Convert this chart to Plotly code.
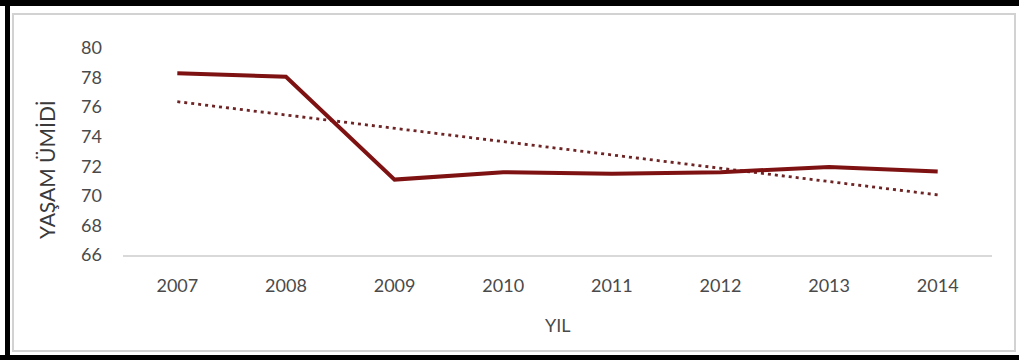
import numpy as np
import plotly.graph_objects as go

# Life expectancy by year
years = ["2007", "2008", "2009", "2010", "2011", "2012", "2013", "2014"]
life_expectancy = [78.3, 78.05, 71.1, 71.6, 71.5, 71.6, 71.95, 71.65]
y_ticks = [66, 68, 70, 72, 74, 76, 78, 80]

# Linear trend fitted over the yearly values
idx = np.arange(len(years))
slope, intercept = np.polyfit(idx, life_expectancy, 1)
trend = (intercept + slope * idx).tolist()

W, H = 1019, 360
L, R, T, B = 123, 27, 48, 105
pw, ph = W - L - R, H - T - B


def px(x):
    return (x - L) / pw


def py(y):
    return (H - B - y) / ph


FONT = "Lato"
GREY = "#4a4a4a"

fig = go.Figure()
fig.add_trace(go.Scatter(
    x=years, y=trend, mode="lines",
    line=dict(color="#6e2424", width=2.8, dash="3px,4px"),
    showlegend=False, hoverinfo="skip",
))
fig.add_trace(go.Scatter(
    x=years, y=life_expectancy, mode="lines",
    line=dict(color="#7e1212", width=4),
    showlegend=False,
))

shapes = [
    # inner light frame
    dict(type="rect", xref="paper", yref="paper",
         x0=px(13), x1=px(1015), y0=py(351), y1=py(14),
         line=dict(color="#d2d2d2", width=2), layer="below"),
    # outer black frame edges
    dict(type="line", xref="paper", yref="paper",
         x0=px(0), x1=px(W), y0=py(3), y1=py(3),
         line=dict(color="#000000", width=6)),
    dict(type="line", xref="paper", yref="paper",
         x0=px(7.5), x1=px(7.5), y0=py(0), y1=py(H),
         line=dict(color="#000000", width=5)),
    dict(type="line", xref="paper", yref="paper",
         x0=px(0), x1=px(W), y0=py(357.5), y1=py(357.5),
         line=dict(color="#000000", width=5)),
]

annotations = [
    dict(text="YIL", xref="paper", yref="paper",
         x=px(558), y=py(325), xanchor="center", yanchor="middle",
         showarrow=False, font=dict(family=FONT, size=18, color=GREY)),
    dict(text="YAŞAM ÜMİDİ", xref="paper", yref="paper",
         x=px(46), y=py(170), xanchor="center", yanchor="middle",
         textangle=-90, showarrow=False,
         font=dict(family=FONT, size=21, color="#3a3a3a")),
]

fig.update_layout(
    width=W, height=H,
    margin=dict(l=L, r=R, t=T, b=B),
    paper_bgcolor="white", plot_bgcolor="white",
    font=dict(family=FONT, color=GREY, size=18),
    shapes=shapes,
    annotations=annotations,
    xaxis=dict(
        type="category", range=[-0.5, 7.5],
        showgrid=False, zeroline=False,
        showline=True, linecolor="#d9d9d9", linewidth=2,
        ticks="", ticklabelstandoff=13,
        tickfont=dict(family=FONT, size=18, color=GREY),
    ),
    yaxis=dict(
        range=[66, 80], tickvals=y_ticks,
        showgrid=False, zeroline=False, showline=False,
        ticks="", ticklabelstandoff=20,
        tickfont=dict(family=FONT, size=18, color=GREY),
    ),
)

fig.write_html("out.html")
